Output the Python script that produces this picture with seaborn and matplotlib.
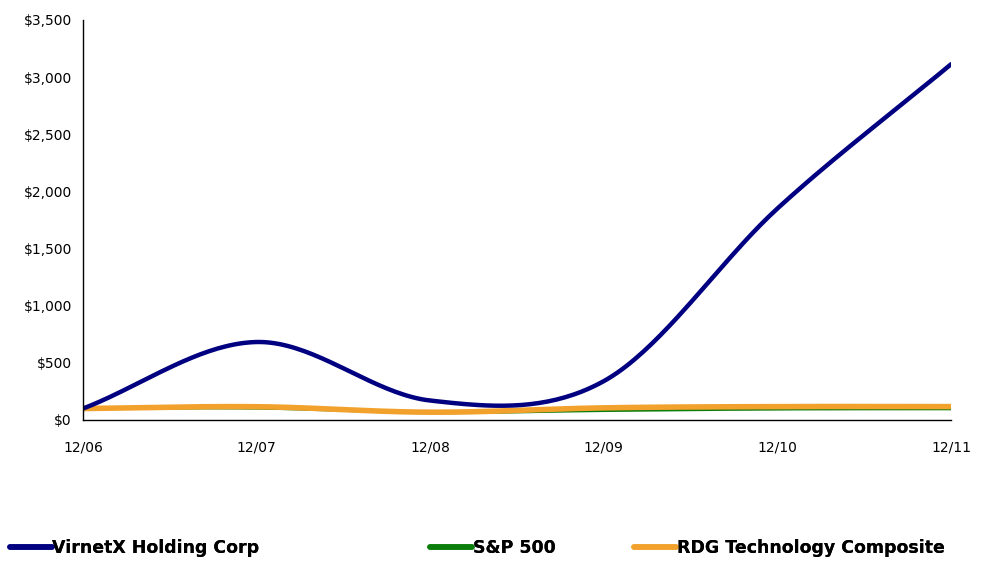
import numpy as np
import pandas as pd
import seaborn as sns
import matplotlib
matplotlib.use("Agg")
import matplotlib.pyplot as plt
from matplotlib.lines import Line2D
from matplotlib.ticker import FuncFormatter

years = ["12/06", "12/07", "12/08", "12/09", "12/10", "12/11"]
virnetx = [100, 682, 170, 340, 1850, 3112]
sp500 = [100, 105, 66, 84, 97, 99]
rdg = [100, 116, 68, 106, 117, 117]

names = ["VirnetX Holding Corp", "S&P 500", "RDG Technology Composite"]
colors = ["#000080", "#0a7d0a", "#f2a22c"]
widths = [3.2, 2.4, 4.0]


def smooth(vals, n=40):
	# catmull-rom curve through the points, like the excel "smoothed line"
	p = np.array(vals, dtype=float)
	m = np.zeros_like(p)
	m[1:-1] = (p[2:] - p[:-2]) / 2
	m[0] = p[1] - p[0]
	m[-1] = p[-1] - p[-2]
	xs, ys = [], []
	for i in range(len(p) - 1):
		t = np.linspace(0, 1, n, endpoint=False)
		h00 = 2*t**3 - 3*t**2 + 1
		h10 = t**3 - 2*t**2 + t
		h01 = -2*t**3 + 3*t**2
		h11 = t**3 - t**2
		ys.append(h00*p[i] + h10*m[i] + h01*p[i+1] + h11*m[i+1])
		xs.append(i + t)
	xs.append([len(p) - 1])
	ys.append([p[-1]])
	return np.concatenate(xs), np.concatenate(ys)


sns.set_style("white")
plt.rcParams['font.family'] = ['DejaVu Sans']
plt.rcParams['text.color'] = 'black'

fig = plt.figure(figsize=(9.85, 5.82), dpi=100)
ax = fig.add_axes([0.0843, 0.2784, 0.8812, 0.6874])

frames = []
for name, vals in zip(names, [virnetx, sp500, rdg]):
	x, y = smooth(vals)
	frames.append(pd.DataFrame({"x": x, "y": y, "series": name}))
df = pd.concat(frames)

# green under orange, navy on top
order = ["S&P 500", "RDG Technology Composite", "VirnetX Holding Corp"]
for name in order:
	i = names.index(name)
	sub = df[df["series"] == name]
	sns.lineplot(data=sub, x="x", y="y", color=colors[i], linewidth=widths[i],
	             ax=ax, legend=False, sort=False, estimator=None)

ax.set_xlim(0, len(years) - 1)
ax.set_ylim(0, 3500)
ax.set_xticks(range(len(years)))
ax.set_xticklabels(years)
ax.set_yticks(np.arange(0, 3501, 500))
ax.yaxis.set_major_formatter(FuncFormatter(lambda v, p: "${:,.0f}".format(v)))
ax.set_xlabel("")
ax.set_ylabel("")

for s in ["top", "right"]:
	ax.spines[s].set_visible(False)
for s in ["left", "bottom"]:
	ax.spines[s].set_color("black")
	ax.spines[s].set_linewidth(1.0)
ax.tick_params(axis="x", direction="out", length=5, width=1, pad=10, labelsize=10, colors="black")
ax.tick_params(axis="y", direction="out", length=4, width=1, pad=4, labelsize=10, colors="black")

# legend entries spread across the bottom
legend_x = [0.003, 0.43, 0.637]
for i, name in enumerate(names):
	h = Line2D([0], [0], color=colors[i], linewidth=4)
	leg = fig.legend([h], [name], loc="center left", bbox_to_anchor=(legend_x[i], 0.058),
	                 frameon=False, handlelength=2.4, handletextpad=0.05, borderaxespad=0,
	                 labelcolor="black",
	                 prop={"family": "DejaVu Sans", "weight": "bold", "size": 12.5})
	fig.add_artist(leg)

fig.savefig("out.png", dpi=100)
